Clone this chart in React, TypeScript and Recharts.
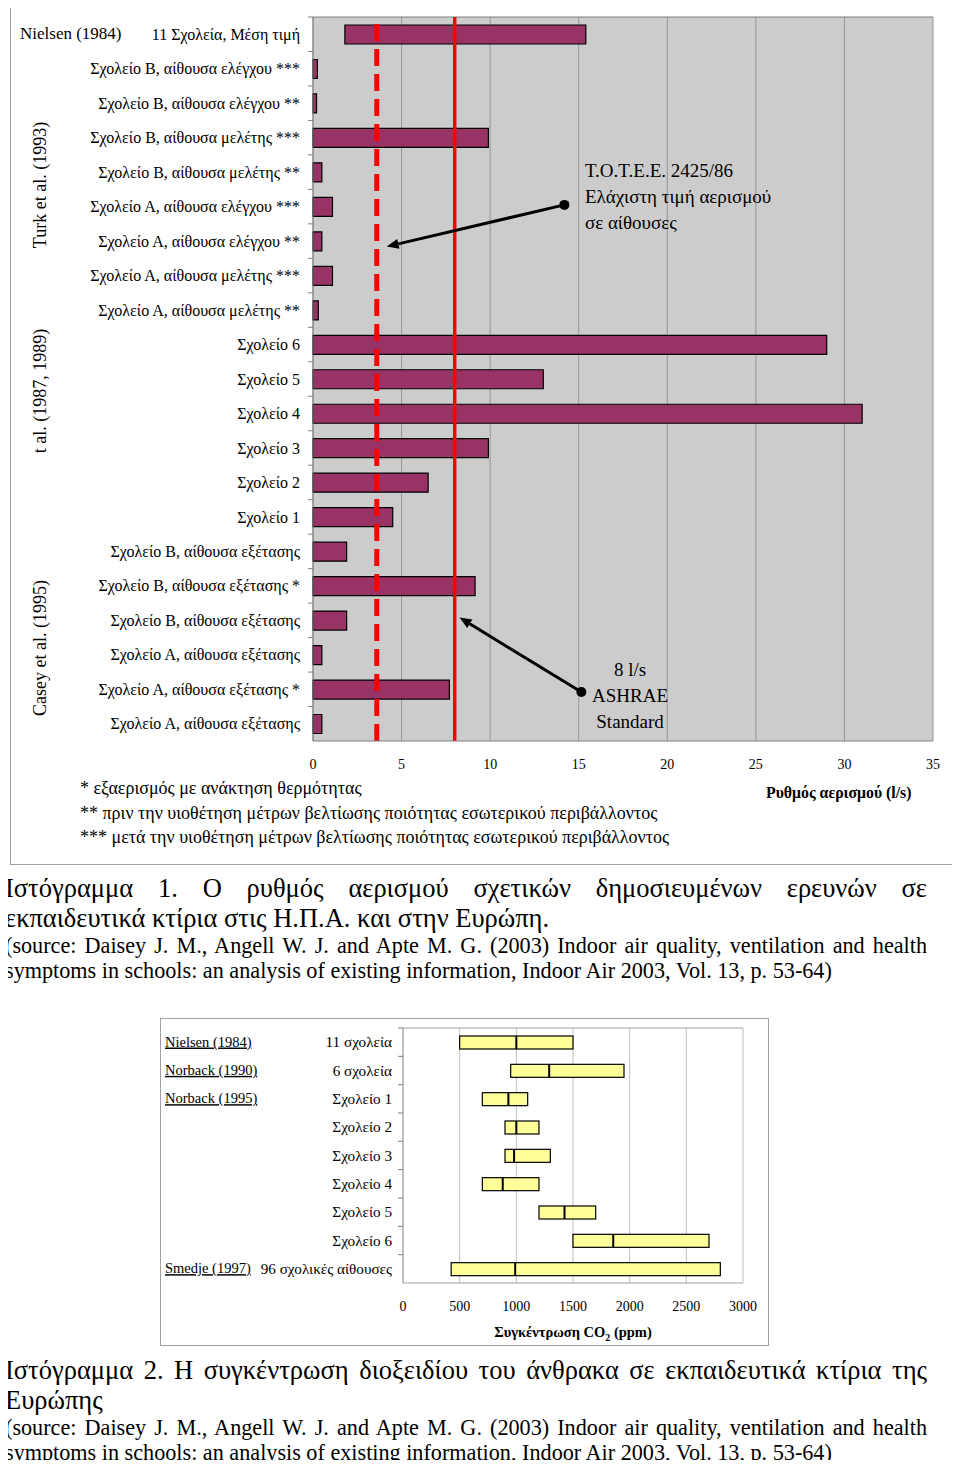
import React from 'react';
import {
  BarChart, Bar, XAxis, YAxis, CartesianGrid, ReferenceLine, ReferenceDot,
} from 'recharts';

// Ιστόγραμμα 1: ρυθμός αερισμού (l/s)
const ventLabels = [
  '11 Σχολεία, Μέση τιμή',
  'Σχολείο Β, αίθουσα ελέγχου ***',
  'Σχολείο Β, αίθουσα ελέγχου **',
  'Σχολείο Β, αίθουσα μελέτης ***',
  'Σχολείο Β, αίθουσα μελέτης **',
  'Σχολείο Α, αίθουσα ελέγχου ***',
  'Σχολείο Α, αίθουσα ελέγχου **',
  'Σχολείο Α, αίθουσα μελέτης ***',
  'Σχολείο Α, αίθουσα μελέτης **',
  'Σχολείο 6',
  'Σχολείο 5',
  'Σχολείο 4',
  'Σχολείο 3',
  'Σχολείο 2',
  'Σχολείο 1',
  'Σχολείο Β, αίθουσα εξέτασης',
  'Σχολείο Β, αίθουσα εξέτασης *',
  'Σχολείο Β, αίθουσα εξέτασης',
  'Σχολείο Α, αίθουσα εξέτασης',
  'Σχολείο Α, αίθουσα εξέτασης *',
  'Σχολείο Α, αίθουσα εξέτασης',
];
const ventLow = [1.8, 0, 0, 0, 0, 0, 0, 0, 0, 0, 0, 0, 0, 0, 0, 0, 0, 0, 0, 0, 0];
const ventHigh = [15.4, 0.25, 0.2, 9.9, 0.5, 1.1, 0.5, 1.1, 0.3, 29, 13, 31, 9.9, 6.5, 4.5, 1.9, 9.15, 1.9, 0.5, 7.7, 0.5];
const ventStudies = ['Nielsen (1984)'];
const ventTicks = [0, 5, 10, 15, 20, 25, 30, 35];
const TOTEE_MIN = 3.6;
const ASHRAE = 8;

// Ιστόγραμμα 2: συγκέντρωση CO2 (ppm)
const co2Labels = ['11 σχολεία', '6 σχολεία', 'Σχολείο 1', 'Σχολείο 2', 'Σχολείο 3', 'Σχολείο 4', 'Σχολείο 5', 'Σχολείο 6', '96 σχολικές αίθουσες'];
const co2Min = [500, 950, 700, 900, 900, 700, 1200, 1500, 425];
const co2Max = [1500, 1950, 1100, 1200, 1300, 1200, 1700, 2700, 2800];
const co2Median = [1000, 1290, 930, 1000, 980, 880, 1425, 1855, 990];
const co2Studies = ['Nielsen (1984)', 'Norback (1990)', 'Norback (1995)', '', '', '', '', '', 'Smedje (1997)'];
const co2Ticks = [0, 500, 1000, 1500, 2000, 2500, 3000];

const ventData = ventLabels.map((label, i) => ({
  id: 'v' + i, label, study: ventStudies[i] || '', range: [ventLow[i], ventHigh[i]],
}));
const co2Data = co2Labels.map((label, i) => ({
  id: 'c' + i, label, study: co2Studies[i], min: co2Min[i], max: co2Max[i], median: co2Median[i],
  range: [co2Min[i], co2Max[i]],
}));

const FONT = '"Liberation Serif", "Times New Roman", serif';
const BAND1 = 724 / ventData.length;
const BAND2 = 255 / co2Data.length;

const VentTick = (props: any) => {
  const { x, y, index } = props;
  const row = ventData[index];
  return (
    <g>
      <line x1={x + 8} x2={x + 13} y1={y - BAND1 / 2} y2={y - BAND1 / 2} stroke="#808080" />
      <text x={x} y={y} dy="0.35em" textAnchor="end" fontSize={16} fill="#000" fontFamily={FONT}>{row.label}</text>
      {row.study && (
        <text x={10} y={y} dy="0.3em" textAnchor="start" fontSize={17} fill="#000" fontFamily={FONT}>{row.study}</text>
      )}
    </g>
  );
};

const Co2Tick = (props: any) => {
  const { x, y, index } = props;
  const row = co2Data[index];
  return (
    <g>
      <line x1={x + 6} x2={x + 11} y1={y - BAND2 / 2} y2={y - BAND2 / 2} stroke="#808080" />
      <text x={x} y={y} dy="0.35em" textAnchor="end" fontSize={15.2} fill="#000" fontFamily={FONT}>{row.label}</text>
      {row.study && (
        <text x={5} y={y} dy="0.3em" textAnchor="start" fontSize={14.5} fill="#000" fontFamily={FONT}
          textDecoration="underline" style={{ textDecoration: 'underline' }}>{row.study}</text>
      )}
    </g>
  );
};

// arrow from a dot (first point) to an arrow head (second point); shifts are in band fractions
const arrow = (shift1: number, shift2: number) => (props: any) => {
  const x1 = props.x1 ?? props.points?.[0]?.x;
  const x2 = props.x2 ?? props.points?.[1]?.x;
  let y1 = props.y1 ?? props.points?.[0]?.y;
  let y2 = props.y2 ?? props.points?.[1]?.y;
  if ([x1, y1, x2, y2].some((v) => v == null || isNaN(v))) return null;
  y1 += shift1 * BAND1;
  y2 += shift2 * BAND1;
  const a = Math.atan2(y2 - y1, x2 - x1);
  const L = 12, W = 5;
  const bx = x2 - L * Math.cos(a), by = y2 - L * Math.sin(a);
  const p1 = `${bx + W * Math.sin(a)},${by - W * Math.cos(a)}`;
  const p2 = `${bx - W * Math.sin(a)},${by + W * Math.cos(a)}`;
  return (
    <g>
      <line x1={x1} y1={y1} x2={bx} y2={by} stroke="#000" strokeWidth={3} />
      <polygon points={`${x2},${y2} ${p1} ${p2}`} fill="#000" />
      <circle cx={x1} cy={y1} r={5} fill="#000" />
    </g>
  );
};

const textBlock = (lines: string[], anchor: 'start' | 'middle', firstDy: number) => (props: any) => (
  <text x={props.cx} y={props.cy + firstDy} dy="0.35em" textAnchor={anchor} fontSize={19} fill="#000" fontFamily={FONT}>
    {lines.map((l, i) => (
      <tspan key={i} x={props.cx} dy={i === 0 ? '0.35em' : 26}>{l}</tspan>
    ))}
  </text>
);

const Co2Bar = (props: any) => {
  const { x, y, width, height, payload } = props;
  if (width == null || isNaN(width)) return null;
  const mx = x + (width * (payload.median - payload.min)) / (payload.max - payload.min);
  return (
    <g>
      <rect x={x} y={y} width={width} height={height} fill="#ffff99" stroke="#000" strokeWidth={1.2} />
      <line x1={mx} x2={mx} y1={y} y2={y + height} stroke="#000" strokeWidth={2} />
    </g>
  );
};

const abs = (left: number, top: number, extra: React.CSSProperties = {}): React.CSSProperties => ({
  position: 'absolute', left, top, whiteSpace: 'nowrap', ...extra,
});

const rotLabel = (text: string, cx: number, cy: number) => (
  <div style={abs(cx, cy, { fontSize: 18, lineHeight: '20px', transform: 'translate(-50%, -50%) rotate(-90deg)' })}>{text}</div>
);

const justLine = (text: string, top: number, size: number, lh: number, full: boolean) => (
  <div style={{
    position: 'absolute', left: 5, top, width: 922, fontSize: size, lineHeight: lh + 'px',
    textAlign: full ? 'justify' : 'left', textAlignLast: full ? 'justify' : 'left', whiteSpace: full ? 'normal' : 'nowrap',
  } as React.CSSProperties}>{text}</div>
);

export default function App() {
  return (
    <div style={{ position: 'relative', width: 960, height: 1468, margin: -8, fontFamily: FONT, color: '#000', background: '#fff' }}>
      {/* frame 1 */}
      <div style={{ position: 'absolute', left: 10, top: 3, width: 944, height: 860, border: '1px solid #a0a0a0' }} />
      <div style={{ position: 'absolute', left: 10, top: 3 }}>
        <BarChart width={946} height={862} data={ventData} layout="vertical"
          margin={{ top: 14, right: 23, bottom: 94, left: 0 }} barCategoryGap={0}>
          <CartesianGrid horizontal={false} stroke="#969696" fill="#cccccc" fillOpacity={1} />
          <XAxis type="number" domain={[0, 35]} ticks={ventTicks} tickLine={false} tickSize={0} tickMargin={18}
            axisLine={{ stroke: '#808080' }} height={30}
            tick={{ fontSize: 14, fill: '#000', fontFamily: FONT }} />
          <YAxis type="category" dataKey="id" width={303} tickLine={false} tickSize={0} tickMargin={13}
            axisLine={{ stroke: '#808080' }} tick={<VentTick />} interval={0} />
          <ReferenceLine y="v0" position="start" stroke="#808080" />
          <Bar dataKey="range" barSize={19} fill="#993366" stroke="#000" strokeWidth={1.2} isAnimationActive={false} />
          <ReferenceLine x={TOTEE_MIN} stroke="#ff0000" strokeWidth={5} strokeDasharray="17 8" />
          <ReferenceLine x={ASHRAE} stroke="#ff0000" strokeWidth={3.5} />
          <ReferenceLine segment={[{ x: 14.19, y: 'v5' }, { x: 4.16, y: 'v6' }]} shape={arrow(-0.05, 0.16)} ifOverflow="visible" />
          <ReferenceLine segment={[{ x: 15.15, y: 'v19' }, { x: 8.27, y: 'v17' }]} shape={arrow(0.08, -0.08)} ifOverflow="visible" />
          <ReferenceDot x={15.35} y="v4" r={0} ifOverflow="visible"
            shape={textBlock(['T.O.T.E.E. 2425/86', 'Ελάχιστη τιμή αερισμού', 'σε αίθουσες'], 'start', -2)} />
          <ReferenceDot x={17.9} y="v19" r={0} ifOverflow="visible"
            shape={textBlock(['8 l/s', 'ASHRAE', 'Standard'], 'middle', -20)} />
        </BarChart>
      </div>
      {rotLabel('Turk et al. (1993)', 40, 185)}
      {rotLabel('t al. (1987, 1989)', 40, 391)}
      {rotLabel('Casey et al. (1995)', 40, 648)}
      <div style={abs(766, 783, { fontSize: 15.8, fontWeight: 'bold', lineHeight: '20px' })}>Ρυθμός αερισμού (l/s)</div>
      <div style={abs(80, 777, { fontSize: 18, lineHeight: '22px' })}>* εξαερισμός με ανάκτηση θερμότητας</div>
      <div style={abs(80, 802, { fontSize: 18, lineHeight: '22px' })}>** πριν την υιοθέτηση μέτρων βελτίωσης ποιότητας εσωτερικού περιβάλλοντος</div>
      <div style={abs(80, 826, { fontSize: 18, lineHeight: '22px' })}>*** μετά την υιοθέτηση μέτρων βελτίωσης ποιότητας εσωτερικού περιβάλλοντος</div>

      {justLine('Ιστόγραμμα 1. Ο ρυθμός αερισμού σχετικών δημοσιευμένων ερευνών σε', 873, 26.5, 30, true)}
      {justLine('εκπαιδευτικά κτίρια στις Η.Π.Α. και στην Ευρώπη.', 903, 26.5, 30, false)}
      {justLine('(source: Daisey J. M., Angell W. J. and Apte M. G. (2003) Indoor air quality, ventilation and health', 933, 22.2, 25, true)}
      {justLine('symptoms in schools: an analysis of existing information, Indoor Air 2003, Vol. 13, p. 53-64)', 958, 22.2, 25, false)}

      {/* frame 2 */}
      <div style={{ position: 'absolute', left: 160, top: 1018, width: 607, height: 326, border: '1px solid #a0a0a0' }} />
      <div style={{ position: 'absolute', left: 160, top: 1018 }}>
        <BarChart width={609} height={328} data={co2Data} layout="vertical"
          margin={{ top: 10, right: 26, bottom: 0, left: 0 }} barCategoryGap={0}>
          <CartesianGrid horizontal={false} stroke="#c0c0c0" />
          <XAxis type="number" domain={[0, 3000]} ticks={co2Ticks} tickLine={false} tickSize={0} tickMargin={18}
            axisLine={{ stroke: '#a0a0a0' }} height={63}
            tick={{ fontSize: 14, fill: '#000', fontFamily: FONT }} />
          <YAxis type="category" dataKey="id" width={243} tickLine={false} tickSize={0} tickMargin={11}
            axisLine={{ stroke: '#a0a0a0' }} tick={<Co2Tick />} interval={0} />
          <ReferenceLine y="c0" position="start" stroke="#a0a0a0" />
          <Bar dataKey="range" barSize={13} shape={Co2Bar} isAnimationActive={false} />
        </BarChart>
      </div>
      <div style={{ position: 'absolute', left: 403, width: 340, top: 1323, textAlign: 'center', fontSize: 14.5, fontWeight: 'bold', lineHeight: '18px' }}>
        Συγκέντρωση CO<sub style={{ fontSize: 10 }}>2</sub> (ppm)
      </div>

      {justLine('Ιστόγραμμα 2. Η συγκέντρωση διοξειδίου του άνθρακα σε εκπαιδευτικά κτίρια της', 1355, 26.5, 30, true)}
      {justLine('Ευρώπης', 1385, 26.5, 30, false)}
      {justLine('(source: Daisey J. M., Angell W. J. and Apte M. G. (2003) Indoor air quality, ventilation and health', 1415, 22.2, 25, true)}
      {justLine('symptoms in schools: an analysis of existing information, Indoor Air 2003, Vol. 13, p. 53-64)', 1440, 22.2, 25, false)}
    </div>
  );
}
